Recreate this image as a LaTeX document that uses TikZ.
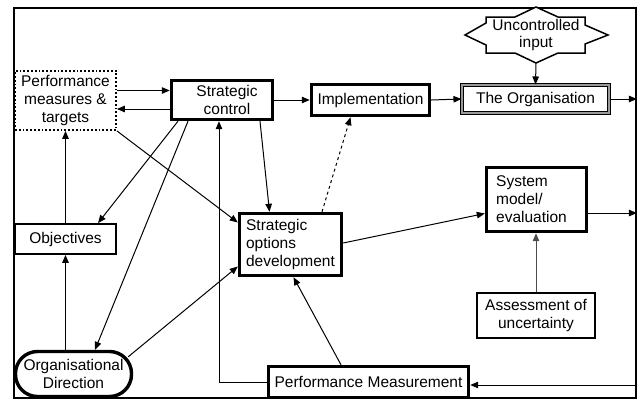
\documentclass[tikz,border=0pt]{standalone}
\usepackage{fontspec}
\setmainfont{Liberation Sans}
\usetikzlibrary{arrows.meta}

\begin{document}
\begin{tikzpicture}[x=1pt,y=-1pt,
    font=\fontsize{15.5}{18}\selectfont,
    box/.style={draw, line width=3.4pt, inner sep=0pt, align=center},
    thinbox/.style={draw, line width=1.8pt, inner sep=0pt, align=center},
    pfeil/.style={line width=1pt, -{Triangle[length=8pt,width=6.5pt]}}]

    \useasboundingbox (0,0) rectangle (638,402);

    %Rahmen
    \node[draw, line width=1.8pt, minimum width=622, minimum height=390, inner sep=0pt] (frame) at (325,203) {};

    %Knoten oben
    \node[thinbox, dotted, minimum width=101, minimum height=59] (pmt) at (65.5,100.5) {Performance\\measures \&\\targets};
    \node[box, minimum width=101, minimum height=39] (sc) at (222,100) {\hspace*{10pt}Strategic\\\hspace*{10pt}control};
    \node[box, minimum width=118, minimum height=31] (impl) at (370.5,100) {Implementation};
    \node[draw, line width=1.1pt, double=black!40, double distance=2pt, inner sep=0pt,
          minimum width=147, minimum height=28] (org) at (535.5,99) {The Organisation};

    %Stern
    \draw[line width=1.5pt, fill=white] (465,35) -- (486,23) -- (486,17) -- (515,17) -- (536,7)
        -- (558,17) -- (585,17) -- (585,25) -- (608,35) -- (585,44) -- (585,53) -- (558,53)
        -- (536,63) -- (515,53) -- (486,53) -- (486,45) -- cycle;
    \node[align=center] (uin) at (536,35) {Uncontrolled\\[-1pt]input};
    \coordinate (uinbot) at (536,63);

    %Knoten Mitte
    \node[thinbox, minimum width=101, minimum height=30] (obj) at (65.5,239) {Objectives};
    \node[box, align=left, minimum width=102, minimum height=62] (sod) at (290.5,244.5) {Strategic\\options\\development};
    \node[box, align=left, minimum width=100, minimum height=64] (sysm) at (536.5,199.5) {System\\model/\\evaluation\hspace*{10pt}};
    \node[thinbox, minimum width=118, minimum height=45] (aou) at (536,315.5) {Assessment of\\uncertainty};

    %Knoten unten
    \node[box, rounded corners=22pt, minimum width=116, minimum height=45] (od) at (73.5,374) {Organisational\\Direction};
    \node[box, minimum width=200, minimum height=31] (pm) at (368.5,382) {Performance Measurement};

    %Pfeile
    \draw[pfeil] ([yshift=10pt]pmt.east) -- ([yshift=10pt]pmt.east -| sc.west);
    \draw[pfeil] ([yshift=-9pt]sc.west) -- ([yshift=-9pt]sc.west -| pmt.east);
    \draw[pfeil] (sc.east) -- (impl.west);
    \draw[pfeil] (impl.east) -- (org.west);
    \draw[pfeil] (uinbot) -- (org.north);
    \draw[pfeil] (org.east) -- (org.east -| frame.east);
    \draw[pfeil] ([xshift=-44pt]sc.south) -- ([xshift=32.5pt]obj.north);
    \draw[pfeil] ([xshift=-34pt]sc.south) -- ([xshift=21.5pt]od.north);
    \draw[pfeil] (pmt.south east) -- ([yshift=22pt]sod.west);
    \draw[pfeil] ([xshift=38pt]sc.south) -- ([xshift=-21pt]sod.north);
    \draw[pfeil] (pm.west) -| ([xshift=-3pt]sc.south);
    \draw[pfeil] (obj.north -| pmt.south) -- (pmt.south);
    \draw[pfeil] (od.north -| obj.south) -- (obj.south);
    \draw[pfeil] ([xshift=-5pt,yshift=-7pt]od.north east) -- ([yshift=-22pt]sod.west);
    \draw[pfeil, dashed] ([xshift=31.5pt]sod.north) -- ([xshift=-20pt]impl.south);
    \draw[pfeil] ([yshift=1.5pt]sod.east) -- ([yshift=-14pt]sysm.west);
    \draw[pfeil] ([yshift=-13.5pt]sysm.east) -- ([yshift=-13.5pt]sysm.east -| frame.east);
    \draw[pfeil, black!70] (aou.north) -- (aou.north |- sysm.south);
    \draw[pfeil] ([xshift=-27.5pt]pm.north) -- ([xshift=3pt]sod.south);
    \draw[pfeil] ([yshift=-3pt]pm.east -| frame.east) -- ([yshift=-3pt]pm.east);

\end{tikzpicture}
\end{document}
